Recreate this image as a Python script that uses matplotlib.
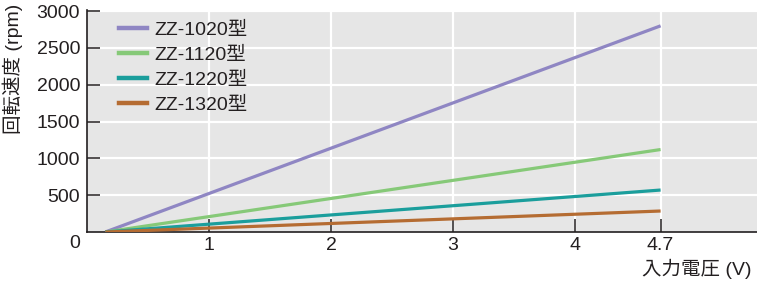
import matplotlib
matplotlib.use("Agg")
import matplotlib.pyplot as plt
from matplotlib.lines import Line2D

plt.rcParams['font.family'] = ['Liberation Sans', 'Noto Sans CJK JP', 'DejaVu Sans']

models = ["ZZ-1020型", "ZZ-1120型", "ZZ-1220型", "ZZ-1320型"]
voltage = [0.15, 4.7]
speeds = {
    "ZZ-1020型": [0, 2800],
    "ZZ-1120型": [0, 1120],
    "ZZ-1220型": [0, 570],
    "ZZ-1320型": [0, 285],
}
colors = ["#8f86c3", "#86c978", "#1b9e9c", "#b56c32"]
xticks = [1, 2, 3, 4, 4.7]
xtick_labels = ["1", "2", "3", "4", "4.7"]
yticks = [500, 1000, 1500, 2000, 2500, 3000]

FS = 14
TXT = "#231f20"

fig = plt.figure(figsize=(7.57, 2.88), dpi=100)
ax = fig.add_axes([87/757, (288-232)/288, (757-87)/757, (232-10)/288])
ax.set_facecolor("#e6e6e6")
ax.set_xlim(0, 5.49)
ax.set_ylim(0, 3015)

for m, c in zip(models, colors):
    ax.plot(voltage, speeds[m], color=c, lw=2.3, solid_capstyle="butt", zorder=3)

ax.set_xticks(xticks)
ax.set_xticklabels(xtick_labels)
ax.set_yticks(yticks)
ax.grid(True, color="white", lw=1.6, zorder=0)
ax.set_axisbelow(True)
for s in ["top", "right"]:
    ax.spines[s].set_visible(False)
for s in ["left", "bottom"]:
    ax.spines[s].set_color(TXT)
    ax.spines[s].set_linewidth(1.2)
ax.tick_params(axis="both", direction="in", length=9.5, width=1.1, color=TXT,
               labelsize=FS, labelcolor=TXT)
ax.tick_params(axis="x", pad=3.5)
ax.tick_params(axis="y", pad=5)

fig.text(80/757, 1-244/288, "0", ha="right", va="center", fontsize=FS, color=TXT)

handles = [Line2D([0], [0], color=c, lw=3.2) for c in colors]
leg = ax.legend(handles, models, loc="upper left", bbox_to_anchor=(0.036, 0.985),
                frameon=False, fontsize=FS, handlelength=1.45, handletextpad=0.4,
                labelspacing=0.38, borderaxespad=0)
for t in leg.get_texts():
    t.set_color(TXT)

fig.text(13/757, 1-4/288, "回転速度 (rpm)", rotation=90, ha="center", va="top",
         fontsize=FS, color=TXT)
fig.text(752/757, 1-269/288, "入力電圧 (V)", ha="right", va="center",
         fontsize=FS, color=TXT)

fig.savefig("out.png", dpi=100)
